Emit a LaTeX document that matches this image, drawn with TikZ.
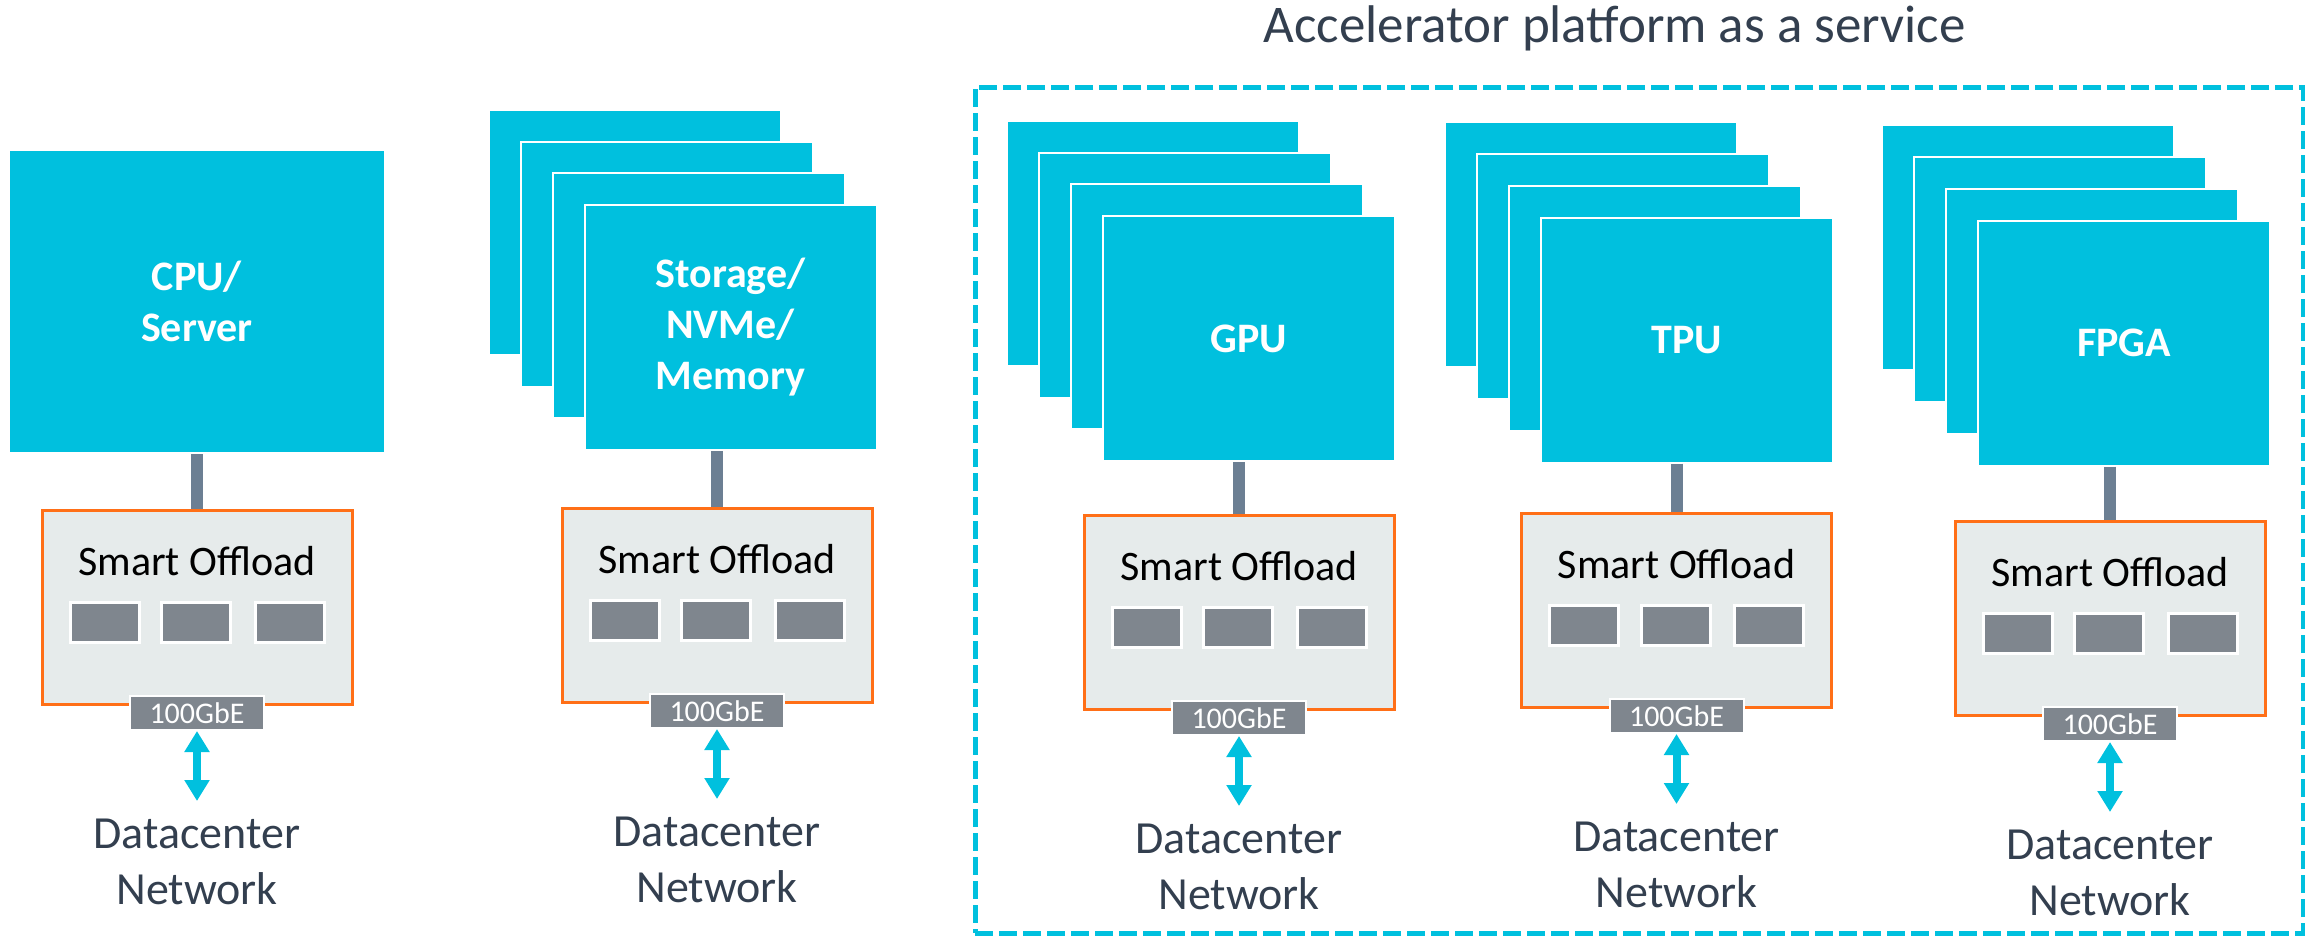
\documentclass[tikz,border=0pt]{standalone}
\usepackage{fontspec}
\setmainfont{Carlito}
\usetikzlibrary{arrows.meta}

\definecolor{cardcyan}{HTML}{00C0DE}
\definecolor{slotgray}{HTML}{7F868E}
\definecolor{offfill}{HTML}{E6EBEB}
\definecolor{offorange}{HTML}{FF6F17}
\definecolor{stemgray}{HTML}{6C7F93}
\definecolor{darktext}{HTML}{333F4F}

\tikzset{
  card/.style={fill=cardcyan, draw=white, line width=2pt, minimum width=292pt,
    minimum height=245pt, inner sep=0pt, text=white, align=center,
    font=\fontsize{42}{51}\selectfont\bfseries},
  offload/.style={fill=offfill, draw=offorange, line width=3pt, minimum width=310pt,
    minimum height=194pt, inner sep=0pt},
  offtext/.style={font=\fontsize{42}{50}\selectfont, text=black, inner sep=0pt},
  slot/.style={fill=slotgray, draw=white, line width=3pt, minimum width=69pt,
    minimum height=40pt, inner sep=0pt},
  linklabel/.style={fill=slotgray, draw=white, line width=2pt, minimum width=134pt,
    minimum height=34pt, inner sep=0pt, text=white, font=\fontsize{30}{30}\selectfont},
  stem/.style={draw=stemgray, line width=12pt},
  netarrow/.style={draw=cardcyan, line width=8pt,
    {Triangle[width=24pt,length=21pt]}-{Triangle[width=24pt,length=21pt]}},
  nettext/.style={text=darktext, font=\fontsize{46}{56}\selectfont, align=center,
    inner sep=0pt},
  dashbox/.style={draw=cardcyan, line width=5pt, dash pattern=on 18pt off 6pt},
}

% Offload card with three slots, link port, network arrow and caption.
% #1 name prefix, #2 centre x, #3 top y
\newcommand\offloadunit[3]{%
  \node[offload] (#1off) at (#2,#3+97) {};
  \node[offtext] (#1txt) at (#2,#3+51) {Smart Offload};
  \node[slot] (#1sa) at (#2-92.5,#3+112.5) {};
  \node[slot] (#1sb) at (#2-1,#3+112.5) {};
  \node[slot] (#1sc) at (#2+92.5,#3+112.5) {};
  \node[linklabel] (#1link) at (#2,#3+203) {100GbE};
  \coordinate (#1end) at (#2,#3+291);
  \draw[netarrow] (#1link.south) -- (#1end);
  \node[nettext] (#1net) at (#2,#3+351.5) {Datacenter\\Network};
}

% Stack of four cards, the front one labelled.
% #1 name, #2 front centre x, #3 front centre y, #4 label
\newcommand\cardstack[4]{%
  \foreach \k/\s in {3/c,2/b,1/a}{\node[card] (#1\s) at (#2-32*\k,#3-31.7*\k) {};}
  \node[card] (#1) at (#2,#3) {#4};
}

\begin{document}
\begin{tikzpicture}[x=1pt,y=-1pt]
\useasboundingbox (0,0) rectangle (2305,937);

% accelerator platform frame and title
\node[dashbox, minimum width=1328pt, minimum height=846pt, inner sep=0pt]
  (platform) at (1639,510) {};
\node[anchor=base, text=darktext, font=\fontsize{53}{60}\selectfont, inner sep=0pt]
  (title) at (1614.5,42) {Accelerator platform as a service};

% CPU server
\node[card, minimum width=376pt, minimum height=303pt] (cpu) at (197,301.5) {CPU/\\Server};
\offloadunit{cpu}{197}{510}
\draw[stem] (cpu.south -| cpuoff.north) -- (cpuoff.north);

% storage
\cardstack{sto}{730.5}{327.5}{Storage/\\NVMe/\\Memory}
\offloadunit{sto}{717}{508}
\draw[stem] (sto.south -| stooff.north) -- (stooff.north);

% GPU
\cardstack{gpu}{1249}{338.5}{GPU}
\offloadunit{gpu}{1239}{515}
\draw[stem] (gpu.south -| gpuoff.north) -- (gpuoff.north);

% TPU
\cardstack{tpu}{1687}{340}{TPU}
\offloadunit{tpu}{1676.5}{513}
\draw[stem] (tpu.south -| tpuoff.north) -- (tpuoff.north);

% FPGA
\cardstack{fpga}{2124}{343}{FPGA}
\offloadunit{fpga}{2110}{521}
\draw[stem] (fpga.south -| fpgaoff.north) -- (fpgaoff.north);
\end{tikzpicture}
\end{document}
